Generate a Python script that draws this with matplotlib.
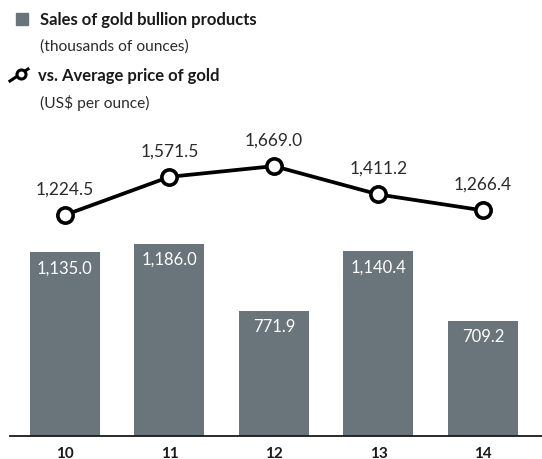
import matplotlib.pyplot as plt
from matplotlib.lines import Line2D
from matplotlib.patches import Rectangle

plt.rcParams['font.family'] = ['Lato', 'DejaVu Sans']

years = ['10', '11', '12', '13', '14']
sales = [1135.0, 1186.0, 771.9, 1140.4, 709.2]
price = [1224.5, 1571.5, 1669.0, 1411.2, 1266.4]

BAR_COLOR = '#69747b'
TEXT_COLOR = '#2b2b2b'

fig = plt.figure(figsize=(5.42, 4.6), dpi=100)
W, H = 542, 460

# axes spans from the baseline (y=437px) up to y=100px, x from 10px to 542px
ax = fig.add_axes([10 / W, (H - 437) / H, 532 / W, 337 / H])
x = list(range(len(years)))

ax.bar(x, sales, width=0.67, color=BAR_COLOR, zorder=2)
for xi, v in zip(x, sales):
    ax.annotate(f'{v:,.1f}', (xi, v), xytext=(0, -11), textcoords='offset points',
                ha='center', va='center', color='white', fontsize=12)

ax.set_xlim(-0.526, 4.565)
ax.set_ylim(0, 2078)
ax.set_yticks([])
ax.set_xticks(x)
ax.set_xticklabels(years, fontweight='bold', fontsize=11, color='#1a1a1a')
ax.tick_params(axis='x', length=0, pad=7)
for s in ['top', 'right', 'left']:
    ax.spines[s].set_visible(False)
ax.spines['bottom'].set_color('#1a1a1a')
ax.spines['bottom'].set_linewidth(1.3)

ax2 = ax.twinx()
ax2.plot(x, price, color='black', linewidth=2.7, marker='o', markersize=11,
         markerfacecolor='white', markeredgecolor='black', markeredgewidth=2.6, zorder=3)
for xi, v in zip(x, price):
    ax2.annotate(f'{v:,.1f}', (xi, v), xytext=(0, 19), textcoords='offset points',
                 ha='center', va='center', color=TEXT_COLOR, fontsize=12.5)
ax2.set_ylim(-784.5, 2279)
ax2.set_yticks([])
for s in ['top', 'right', 'left', 'bottom']:
    ax2.spines[s].set_visible(False)

# legend block
fig.add_artist(Rectangle((16 / W, 1 - 26 / H), 12 / W, 12 / H, color=BAR_COLOR,
                         transform=fig.transFigure))
fig.text(40 / W, 1 - 20 / H, 'Sales of gold bullion products', fontsize=12,
         fontweight='bold', va='center', color='#1a1a1a')
fig.text(40 / W, 1 - 47 / H, '(thousands of ounces)', fontsize=11.2,
         va='center', color=TEXT_COLOR)
fig.add_artist(Line2D([10 / W, 28 / W], [1 - 82 / H, 1 - 70 / H], color='black',
                      linewidth=2.2, transform=fig.transFigure))
fig.add_artist(Line2D([21 / W], [1 - 75 / H], marker='o', markersize=6.5,
                      markerfacecolor='white', markeredgecolor='black',
                      markeredgewidth=2.2, transform=fig.transFigure))
fig.text(38 / W, 1 - 76 / H, 'vs. Average price of gold', fontsize=12,
         fontweight='bold', va='center', color='#1a1a1a')
fig.text(40 / W, 1 - 103 / H, '(US$ per ounce)', fontsize=11.2,
         va='center', color=TEXT_COLOR)

fig.savefig('out.png', dpi=100)
